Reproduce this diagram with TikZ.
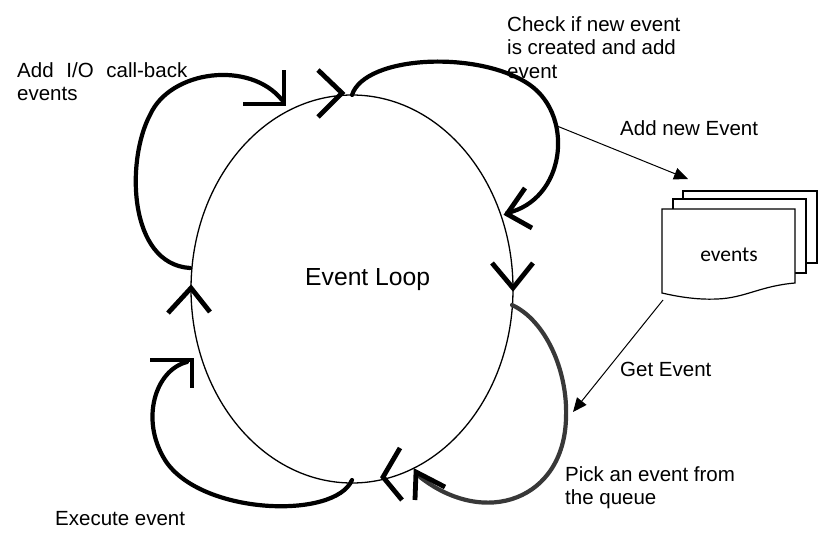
\documentclass[tikz,border=0pt]{standalone}
\usepackage{fontspec}
\setmainfont{Liberation Sans}
\newfontfamily\docfont{Carlito}
\usetikzlibrary{arrows.meta,shapes.geometric}
\begin{document}
\begin{tikzpicture}[x=1pt,y=-1pt,
  curve/.style={line width=4.2pt, line cap=round, line join=round},
  chev/.style={line width=4.8pt, line cap=butt, line join=miter},
  thinarrow/.style={line width=1pt, -{Triangle[length=14pt,width=12pt]}},
  sheet/.style={draw, line width=1.2pt, fill=white},
  lab/.style={font=\fontsize{20.5}{23.5}\selectfont, inner sep=0pt, anchor=base west}]
\useasboundingbox (0,0) rectangle (830,536);

% event loop ellipse
\node[draw, ellipse, minimum width=322pt, minimum height=388pt, inner sep=0pt, line width=1.3pt] (loop) at (352,289) {};
\node[font=\fontsize{24.7}{28}\selectfont, inner sep=0pt, anchor=base west] (title) at (305,285) {Event Loop};

% direction marks on the ellipse
\draw[chev] (318,70) -- (342,93) -- (318,117);
\draw[chev] (492,263) -- (513,288) -- (533,263);
\draw[chev] (400,448) -- (383,477) -- (402,500);
\draw[chev] (168,313) -- (191,288) -- (210,312);

% top-left loop: Add I/O call-back events
\coordinate (tlA) at (190,268);
\coordinate (tlB) at (282,100);
\draw[curve] (tlA) .. controls (128,264) and (126,160) .. (150,115)
                   .. controls (170,70) and (250,60) .. (tlB);
\draw[chev] (284,70) -- (284,104) -- (243,104);

% top-right loop: check new event
\coordinate (trA) at (352,95);
\coordinate (trB) at (507,213);
\draw[curve] (trA) .. controls (365,55) and (480,50) .. (530,85)
                   .. controls (575,117) and (565,200) .. (trB);
\draw[chev] (525,188) -- (507,214) -- (532,228);

% bottom-right loop: pick an event
\coordinate (brA) at (512,305);
\coordinate (brB) at (420,477);
\draw[curve, draw=black!78] (brA) .. controls (545,320) and (568,370) .. (566,418)
                   .. controls (564,500) and (485,528) .. (brB);
\draw[chev] (445,487) -- (416,472) -- (415,500);

% bottom-left loop: execute event
\coordinate (blA) at (352,480);
\coordinate (blB) at (187,362);
\draw[curve] (blA) .. controls (335,520) and (200,515) .. (165,460)
                   .. controls (140,420) and (155,370) .. (blB);
\draw[chev] (150,360) -- (192,360) -- (192,388);

% events document stack
\draw[sheet] (683,191) rectangle (817,263);
\draw[sheet] (673,199) rectangle (806,273);
\draw[sheet] (662,209) -- (795,209) -- (795,283)
  .. controls (760,286) and (745,298) .. (717,299)
  .. controls (695,300) and (675,296) .. (662,293) -- cycle;
\node[font=\docfont\fontsize{21.5}{25}\selectfont, inner sep=0pt] (events) at (729,255) {events};

% thin arrows
\coordinate (addfrom) at (557,126);
\coordinate (addto) at (688,179);
\coordinate (getfrom) at (663,300);
\coordinate (getto) at (573,412);
\draw[thinarrow] (addfrom) -- (addto);
\draw[thinarrow] (getfrom) -- (getto);

% labels
\node[lab] (l1) at (17,77) {\parbox[t]{200pt}{\raggedright Add\hspace{7pt} I/O\hspace{7pt} call-back\\events}};
\node[lab] (l2) at (507,31) {\parbox[t]{220pt}{\raggedright Check if new event\\is created and add\\event}};
\node[lab] (l3) at (620,135) {Add new Event};
\node[lab] (l4) at (620,376) {Get Event};
\node[lab] (l5) at (565,481) {\parbox[t]{220pt}{\raggedright Pick an event from\\the queue}};
\node[lab] (l6) at (55,525) {Execute event};
\end{tikzpicture}
\end{document}
